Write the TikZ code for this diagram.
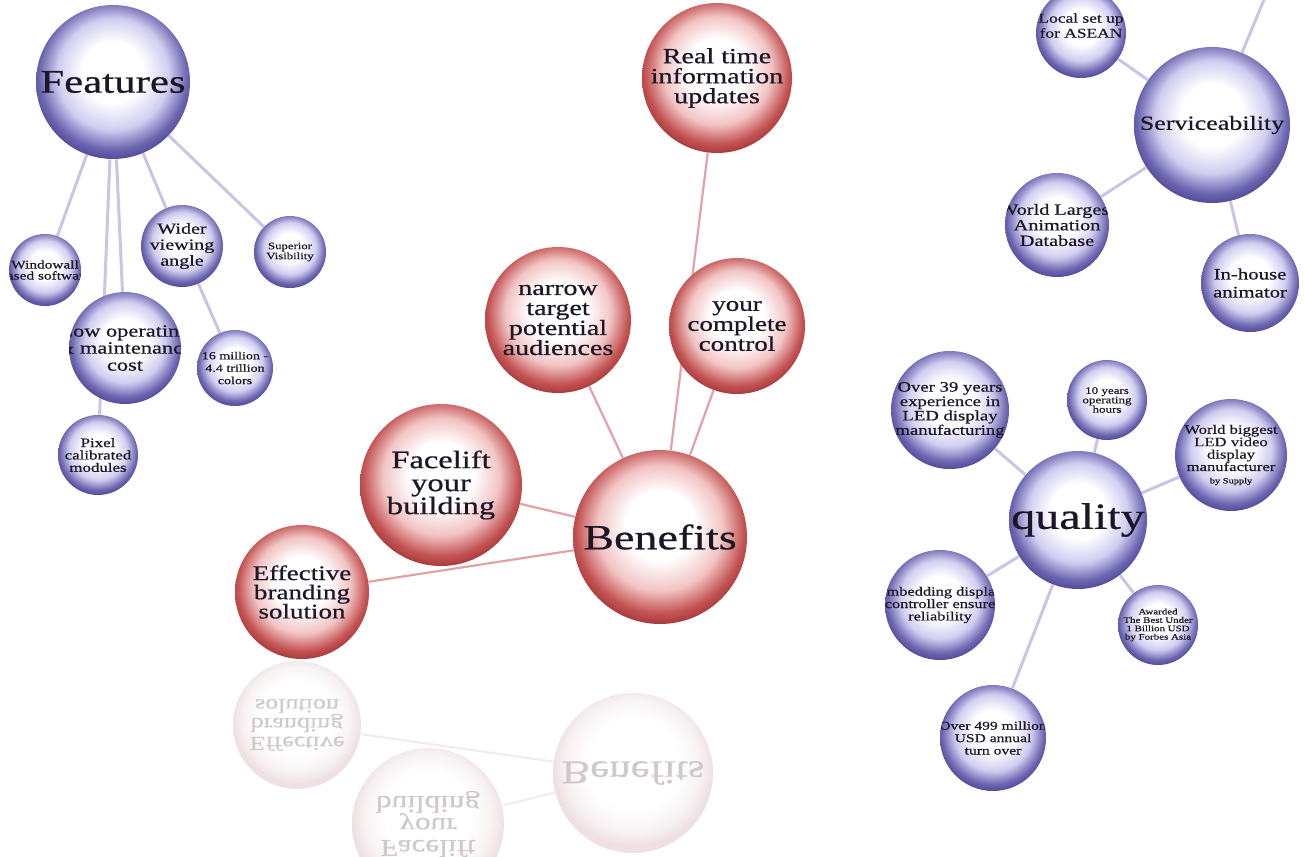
\documentclass[tikz,border=0pt]{standalone}
\usepackage{fontspec}
\setmainfont[FakeStretch=1.3, FakeBold=0.6]{Liberation Serif}
\usetikzlibrary{backgrounds}
\definecolor{bdark}{RGB}{72,64,142}
\definecolor{bedge}{RGB}{108,102,176}
\definecolor{bmid}{RGB}{208,206,240}
\definecolor{rdark}{RGB}{158,48,50}
\definecolor{redge}{RGB}{196,84,84}
\definecolor{rmid}{RGB}{242,196,196}
\definecolor{gedge}{RGB}{238,224,227}
\definecolor{gmid}{RGB}{248,242,243}
\definecolor{ink}{RGB}{28,22,38}
\definecolor{gink}{RGB}{208,200,203}
\definecolor{bline}{RGB}{200,198,226}
\definecolor{rline}{RGB}{224,162,164}
\definecolor{gline}{RGB}{244,234,236}
\pgfdeclareradialshading{bluesphere}{\pgfpoint{0bp}{4bp}}{color(0bp)=(white); color(10bp)=(white); color(18bp)=(bmid); color(24bp)=(bedge); color(28bp)=(bdark); color(50bp)=(bdark)}
\pgfdeclareradialshading{redsphere}{\pgfpoint{0bp}{4bp}}{color(0bp)=(white); color(10bp)=(white); color(18bp)=(rmid); color(24bp)=(redge); color(28bp)=(rdark); color(50bp)=(rdark)}
\pgfdeclareradialshading{ghostsphere}{\pgfpoint{0bp}{4bp}}{color(0bp)=(white); color(14bp)=(white); color(21bp)=(gmid); color(25bp)=(gedge); color(50bp)=(gedge)}
\newcommand{\ballfont}[2]{\fontsize{#1}{#2}\selectfont}
\tikzset{
  sphere/.style={circle, inner sep=0pt, minimum size=#1pt, text=ink, align=center},
  bluenode/.style={sphere=#1, shade, shading=bluesphere},
  rednode/.style={sphere=#1, shade, shading=redsphere},
  ghostnode/.style={sphere=#1, shade, shading=ghostsphere, text=gink},
  cut text/.style 2 args={path picture={\node[text=ink, align=center, font=#1] at (path picture bounding box.center) {#2};}},
  bluelink/.style={draw=bline, line width=1.5pt},
  redlink/.style={draw=rline, line width=1.1pt},
  ghostlink/.style={draw=gline, line width=1pt}
}
\begin{document}
\begin{tikzpicture}[x=0.5pt, y=-0.5pt]
\useasboundingbox (0,0) rectangle (1304,856);

\node[bluenode=77, font=\ballfont{16.5}{18}] (feat) at (113,82) {Features};
\node[bluenode=36, cut text={\ballfont{5.9}{5.5}}{Windowall\\based software}] (win) at (45,270) {};
\node[bluenode=56, cut text={\ballfont{8.6}{8.5}}{Low operating\\\& maintenance\\cost}] (low) at (125,348) {};
\node[bluenode=41, font=\ballfont{7.7}{8}] (wide) at (182,246) {Wider\\viewing\\angle};
\node[bluenode=36, font=\ballfont{4.9}{5}] (sup) at (290,252) {Superior\\Visibility};
\node[bluenode=38, cut text={\ballfont{5.4}{6.2}}{16 million -\\4.4 trillion\\colors}] (mil) at (235,368) {};
\node[bluenode=40, font=\ballfont{6.5}{6.2}] (pix) at (98,455) {Pixel\\calibrated\\modules};

\node[rednode=87, font=\ballfont{17.7}{18}] (ben) at (660,537) {Benefits};
\node[rednode=75, font=\ballfont{10.8}{10}] (real) at (717,78) {Real time\\information\\updates};
\node[rednode=73, font=\ballfont{10.8}{10}] (narrow) at (558,320) {narrow\\target\\potential\\audiences};
\node[rednode=68, font=\ballfont{10.4}{10}] (ctrl) at (737,326) {your\\complete\\control};
\node[rednode=81, font=\ballfont{12.5}{11.5}] (face) at (441,485) {Facelift\\your\\building};
\node[rednode=67, font=\ballfont{10.4}{9.6}] (eff) at (302,592) {Effective\\branding\\solution};

\node[bluenode=78, font=\ballfont{10}{11}] (serv) at (1212,125) {Serviceability};
\node[bluenode=45, cut text={\ballfont{6.7}{7.5}}{Local set up\\for ASEAN\\ }] (local) at (1081,33) {};
\node[bluenode=52, cut text={\ballfont{7.8}{7.8}}{World Largest\\Animation\\Database}] (wla) at (1057,225) {};
\node[bluenode=49, font=\ballfont{8}{9}] (inh) at (1250,283) {In-house\\animator};
\coordinate (servup) at (1268,-10);

\node[bluenode=69, font=\ballfont{18.5}{20}] (qual) at (1078,520) {quality};
\node[bluenode=59, cut text={\ballfont{7.2}{7.2}}{Over 39 years\\experience in\\LED display\\manufacturing}] (yrs) at (950,410) {};
\node[bluenode=40, font=\ballfont{5}{4.7}] (ten) at (1107,400) {10 years\\operating\\hours};
\node[bluenode=56, cut text={\ballfont{6.4}{6.2}}{World biggest\\LED video\\display\\manufacturer\\{\ballfont{4}{4.5}by Supply}}] (big) at (1231,455) {};
\node[bluenode=55, cut text={\ballfont{6.3}{6.2}}{Embedding display\\controller ensure\\reliability}] (emb) at (940,605) {};
\node[bluenode=40, cut text={\ballfont{4.2}{4.2}}{Awarded\\The Best Under\\1 Billion USD\\by Forbes Asia}] (awd) at (1158,625) {};
\node[bluenode=53, cut text={\ballfont{6}{6.2}}{Over 499 million\\USD annual\\turn over}] (usd) at (993,738) {};

\begin{scope}[shift={(0,1312)}, yscale=-1, transform shape]
\node[ghostnode=80, font=\ballfont{16.5}{18}] (benr) at (633,539) {Benefits};
\node[ghostnode=76, font=\ballfont{12}{11}] (facer) at (428,488) {Facelift\\your\\building};
\node[ghostnode=64, font=\ballfont{10}{9.4}] (effr) at (297,587) {Effective\\branding\\solution};
\end{scope}

\begin{scope}[on background layer]
\foreach \a/\b in {feat/win, feat/pix, feat/low, feat/wide, feat/sup, wide/mil, serv/local, serv/wla, serv/inh, serv/servup, qual/yrs, qual/ten, qual/big, qual/emb, qual/awd, qual/usd}
  \draw[bluelink] (\a) -- (\b);
\foreach \b in {real, narrow, ctrl, face, eff}
  \draw[redlink] (ben) -- (\b);
\foreach \b in {facer, effr}
  \draw[ghostlink] (benr) -- (\b);
\end{scope}
\end{tikzpicture}
\end{document}
